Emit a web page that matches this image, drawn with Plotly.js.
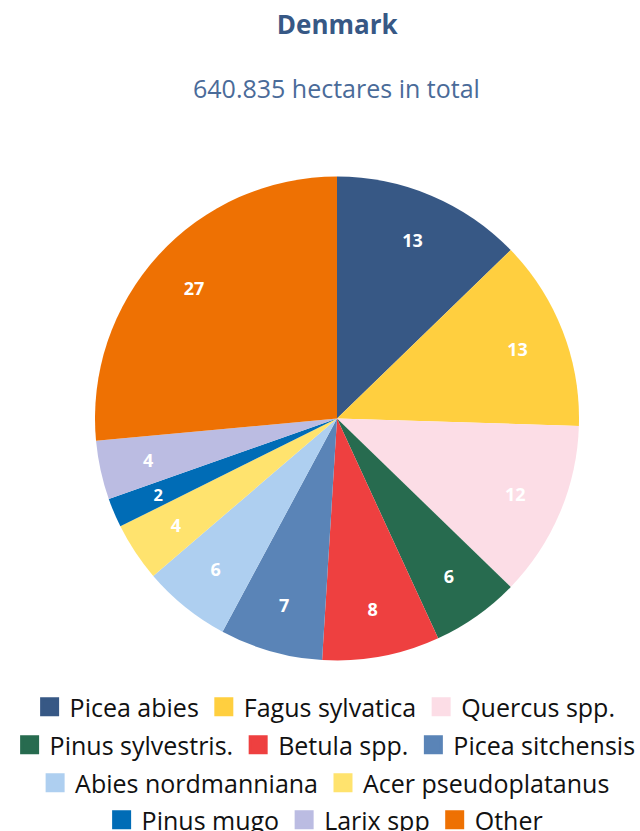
<!DOCTYPE html>
<html>
<head>
<meta charset="utf-8">
<script src="https://cdn.plot.ly/plotly-3.0.1.min.js"></script>
<style>html,body{margin:0;padding:0;background:#fff}#chart{width:640px;height:831px}</style>
</head>
<body>
<div id="chart"></div>
<script>
const species = ["Picea abies","Fagus sylvatica","Quercus spp.","Pinus sylvestris.","Betula spp.","Picea sitchensis","Abies nordmanniana","Acer pseudoplatanus","Pinus mugo","Larix spp","Other"];
const shares = [13,13,12,6,8,7,6,4,2,4,27];
const colors = ["#375885","#FFCF3F","#FCDDE6","#276B4F","#EE4040","#5A84B7","#AECFF0","#FFE36E","#006CB6","#BBBCE2","#EE7103"];
const legendRows = [[0,1,2],[3,4,5],[6,7],[8,9,10]];
const chartTitle = "Denmark";
const chartSubtitle = "640.835 hectares in total";

const FONT = "Open Sans, sans-serif";
const W = 640, H = 831;
const CX = 337, CY = 418.5, R = 242;           // pie centre / radius in px
const HOLE = 0.6;
function domainFor(rad) {
  return {x: [(CX - rad) / W, (CX + rad) / W], y: [1 - (CY + rad) / H, 1 - (CY - rad) / H]};
}
const total = shares.reduce((a, b) => a + b, 0);
// radius of a transparent label ring so every value label sits at 0.8 R
function labelRadius(v) {
  const s = Math.sin(Math.PI * v / total);
  const f = Math.min(s / (1 + s), (1 - HOLE) / 2);
  return Math.round(0.8 * R / (1 - f));
}
const traces = [{
  type: "pie",
  labels: species,
  values: shares,
  marker: {colors: colors, line: {width: 0}},
  sort: false,
  direction: "clockwise",
  rotation: 0,
  textinfo: "none",
  showlegend: false,
  hoverinfo: "label+value",
  domain: domainFor(R)
}];
const radii = shares.map(labelRadius);
[...new Set(radii)].forEach(rad => {
  traces.push({
    type: "pie",
    labels: species,
    values: shares,
    hole: HOLE,
    marker: {colors: species.map(() => "rgba(0,0,0,0)"), line: {width: 0}},
    sort: false,
    direction: "clockwise",
    rotation: 0,
    text: shares.map((v, i) => radii[i] === rad ? String(v) : ""),
    textinfo: "text",
    textposition: "inside",
    insidetextorientation: "horizontal",
    textfont: {color: "#ffffff", size: 18, family: FONT, weight: "bold"},
    showlegend: false,
    hoverinfo: "skip",
    domain: domainFor(rad)
  });
});
const legendNames = ["legend","legend2","legend3","legend4"];
legendRows.forEach((row, r) => {
  row.forEach(i => {
    traces.push({
      type: "scatter", mode: "markers", x: [null], y: [null],
      name: species[i],
      marker: {symbol: "square", size: 16, color: colors[i], line: {width: 3, color: colors[i]}},
      legend: legendNames[r], showlegend: true, hoverinfo: "skip"
    });
  });
});
const rowY = [1 - 707/H, 1 - 745/H, 1 - 783/H, 1 - 820/H];
const layout = {
  width: W, height: H,
  margin: {l: 0, r: 0, t: 0, b: 0, autoexpand: false},
  paper_bgcolor: "#ffffff", plot_bgcolor: "#ffffff",
  font: {family: FONT},
  title: {text: "<b>" + chartTitle + "</b>", x: 0.527, xanchor: "center", y: 1 - 25/H, yanchor: "middle", yref: "paper",
          font: {size: 26, color: "#375885", family: FONT}},
  annotations: [{text: chartSubtitle, x: 0.525, y: 1 - 88/H, xref: "paper", yref: "paper", xanchor: "center", yanchor: "middle",
                 showarrow: false, font: {size: 25, color: "#4A6B99", family: FONT}}],
  xaxis: {visible: false}, yaxis: {visible: false},
  showlegend: true
};
legendNames.forEach((ln, r) => {
  layout[ln] = {orientation: "h", x: 0.508, xanchor: "center", y: rowY[r], yanchor: "middle",
                font: {size: 25, color: "#111111", family: FONT}, itemclick: false, bgcolor: "rgba(0,0,0,0)",
                traceorder: "normal"};
});
Plotly.newPlot("chart", traces, layout, {displayModeBar: false, staticPlot: true});
</script>
</body>
</html>
